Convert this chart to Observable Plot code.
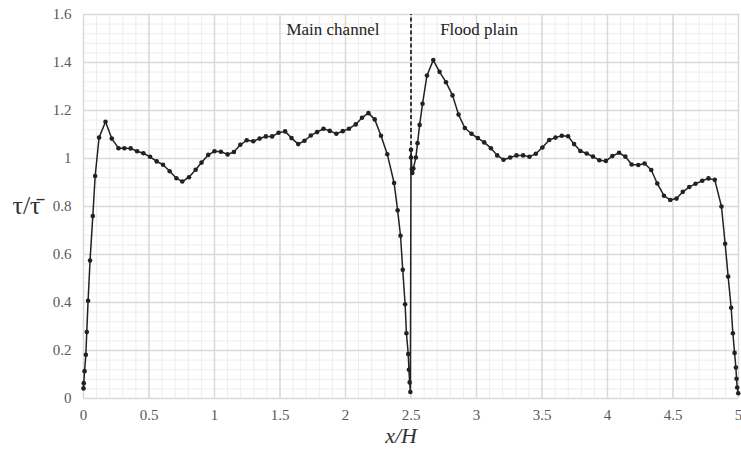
<!DOCTYPE html>
<html>
<head>
<meta charset="utf-8">
<script src="https://cdn.jsdelivr.net/npm/d3@7"></script>
<script src="https://cdn.jsdelivr.net/npm/@observablehq/plot@0.6"></script>
</head>
<body style="margin:0;background:#fff">
<div id="chart"></div>
<script>
// x/H positions
const xs = [0, 0.002, 0.008, 0.018, 0.025, 0.035, 0.05, 0.071, 0.089, 0.119,
  0.168, 0.216, 0.267, 0.312, 0.36, 0.409, 0.457, 0.508, 0.559, 0.607,
  0.658, 0.709, 0.754, 0.805, 0.856, 0.901, 0.952, 1.0, 1.049, 1.1,
  1.148, 1.197, 1.246, 1.296, 1.344, 1.392, 1.44, 1.489, 1.539, 1.588,
  1.639, 1.687, 1.735, 1.783, 1.832, 1.88, 1.93, 1.979, 2.027, 2.078,
  2.126, 2.175, 2.223, 2.271, 2.319, 2.371, 2.398, 2.42, 2.437, 2.455,
  2.465, 2.479, 2.484, 2.49, 2.495, 2.5, 2.5, 2.506, 2.51, 2.518,
  2.537, 2.55, 2.566, 2.588, 2.622, 2.67, 2.718, 2.767, 2.817, 2.863,
  2.911, 2.962, 3.01, 3.059, 3.11, 3.158, 3.206, 3.257, 3.305, 3.356,
  3.404, 3.453, 3.503, 3.555, 3.603, 3.651, 3.699, 3.745, 3.793, 3.841,
  3.889, 3.938, 3.988, 4.037, 4.088, 4.136, 4.184, 4.235, 4.283, 4.334,
  4.38, 4.431, 4.479, 4.527, 4.575, 4.624, 4.672, 4.723, 4.771, 4.819,
  4.87, 4.898, 4.921, 4.944, 4.957, 4.97, 4.98, 4.985, 4.99, 4.998];
// tau / mean tau
const ys = [0.042, 0.064, 0.114, 0.182, 0.277, 0.407, 0.575, 0.76, 0.927, 1.087,
  1.153, 1.083, 1.043, 1.043, 1.042, 1.03, 1.022, 1.007, 0.988, 0.974,
  0.947, 0.918, 0.904, 0.922, 0.953, 0.983, 1.015, 1.03, 1.028, 1.017,
  1.027, 1.057, 1.076, 1.072, 1.083, 1.092, 1.092, 1.107, 1.113, 1.085,
  1.06, 1.074, 1.096, 1.11, 1.124, 1.115, 1.103, 1.114, 1.124, 1.142,
  1.17, 1.189, 1.163, 1.095, 1.018, 0.898, 0.784, 0.678, 0.536, 0.393,
  0.272, 0.185, 0.12, 0.067, 0.027, 1.004, 1.036, 0.956, 0.94, 0.958,
  1.004, 1.064, 1.14, 1.228, 1.346, 1.41, 1.361, 1.318, 1.263, 1.183,
  1.127, 1.103, 1.085, 1.067, 1.043, 1.013, 0.995, 1.004, 1.013, 1.013,
  1.007, 1.02, 1.046, 1.077, 1.087, 1.095, 1.093, 1.06, 1.031, 1.021,
  1.008, 0.993, 0.99, 1.01, 1.024, 1.008, 0.975, 0.973, 0.979, 0.952,
  0.896, 0.845, 0.827, 0.833, 0.861, 0.881, 0.895, 0.907, 0.917, 0.911,
  0.8, 0.645, 0.508, 0.378, 0.272, 0.19, 0.129, 0.082, 0.046, 0.022];

const xTicks = [0, 0.5, 1, 1.5, 2, 2.5, 3, 3.5, 4, 4.5, 5];
const yTicks = [0, 0.2, 0.4, 0.6, 0.8, 1, 1.2, 1.4, 1.6];
const xMinor = d3.range(0, 51).map(i => i / 10);
const yMinor = d3.range(0, 41).map(i => i * 0.04);
const regionLabels = [
  {x: 1.904, y: 1.536, text: "Main channel"},
  {x: 3.02, y: 1.536, text: "Flood plain"}
];
const divider = [{x: 2.5, y1: 1.0, y2: 1.6}];

const data = xs.map((x, i) => ({x, y: ys[i]}));
const serif = "Liberation Serif";

const chart = Plot.plot({
  width: 741,
  height: 452,
  marginLeft: 83,
  marginRight: 3,
  marginTop: 14,
  marginBottom: 54,
  x: {domain: [0, 5]},
  y: {domain: [0, 1.6]},
  marks: [
    Plot.ruleX(xMinor, {stroke: "#ededed", strokeWidth: 1}),
    Plot.ruleY(yMinor, {stroke: "#ededed", strokeWidth: 1}),
    Plot.ruleX(xTicks, {stroke: "#d9d9d9", strokeWidth: 1.5}),
    Plot.ruleY(yTicks, {stroke: "#d9d9d9", strokeWidth: 1.5}),
    Plot.axisX(xTicks, {tickSize: 0, tickPadding: 11, fontSize: 15, fill: "#595959", fontFamily: serif,
      tickFormat: d => String(+d.toFixed(1)), label: null}),
    Plot.axisY(yTicks, {tickSize: 0, tickPadding: 12, fontSize: 15, fill: "#595959", fontFamily: serif,
      tickFormat: d => String(+d.toFixed(1)), label: null}),
    Plot.ruleX(divider, {x: "x", y1: "y1", y2: "y2", stroke: "#111", strokeWidth: 1.6, strokeDasharray: "4,2.5"}),
    Plot.line(data, {x: "x", y: "y", stroke: "#222", strokeWidth: 1.5}),
    Plot.dot(data, {x: "x", y: "y", r: 2.3, fill: "#222", stroke: "none"}),
    Plot.text(regionLabels, {x: "x", y: "y", text: "text", fontSize: 17, fill: "#222", fontFamily: serif}),
    Plot.text(["x/H"], {frameAnchor: "bottom", dx: -10, dy: 44, fontSize: 22, fontStyle: "italic", fill: "#333", fontFamily: serif}),
    Plot.text(["τ/τ\u0304"], {frameAnchor: "left", dx: -57, dy: -1, fontSize: 26, fill: "#333", textAnchor: "middle", fontFamily: serif})
  ]
});
document.getElementById("chart").appendChild(chart);
</script>
</body>
</html>
